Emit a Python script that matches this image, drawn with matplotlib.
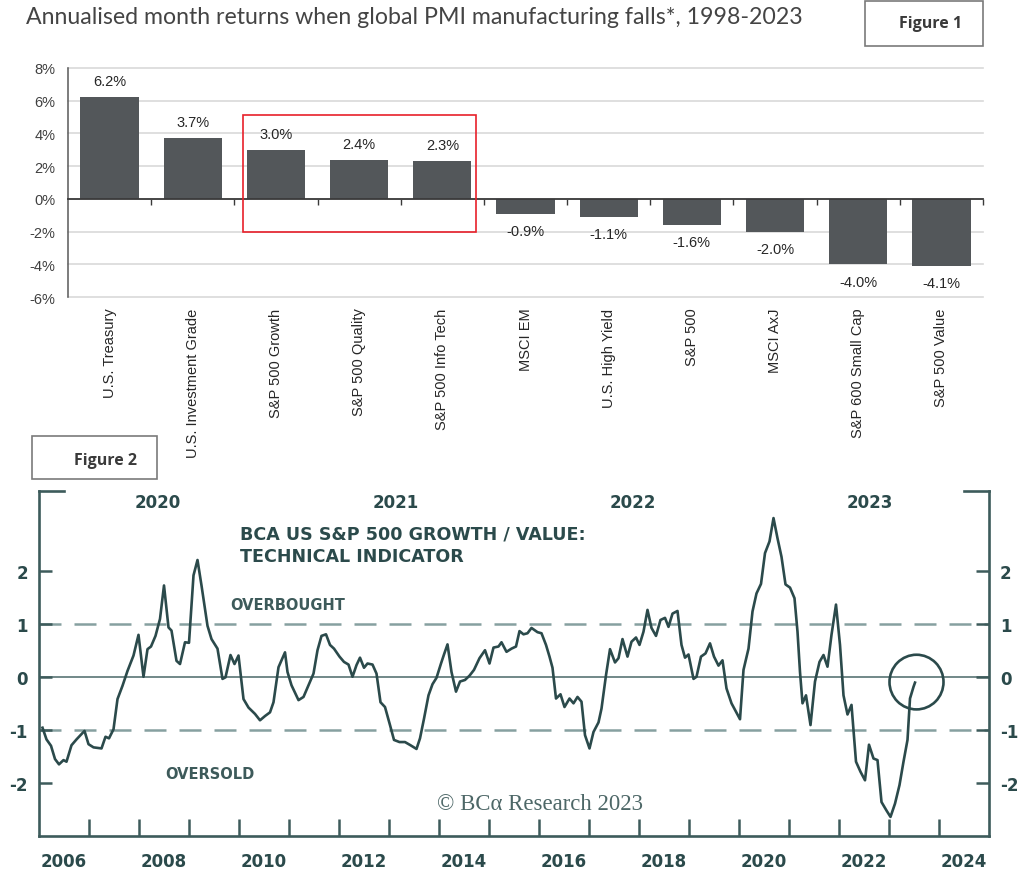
import numpy as np
import matplotlib
matplotlib.use("Agg")
import matplotlib.pyplot as plt
from matplotlib.patches import Rectangle, Ellipse
from matplotlib.ticker import FixedLocator

# FIGURE 1 DATA
categories = ["U.S. Treasury", "U.S. Investment Grade", "S&P 500 Growth", "S&P 500 Quality",
              "S&P 500 Info Tech", "MSCI EM", "U.S. High Yield", "S&P 500", "MSCI AxJ",
              "S&P 600 Small Cap", "S&P 500 Value"]
returns = [6.2, 3.7, 3.0, 2.4, 2.3, -0.9, -1.1, -1.6, -2.0, -4.0, -4.1]
pct_ticks = [-6, -4, -2, 0, 2, 4, 6, 8]

# FIGURE 2 DATA (growth / value technical indicator)
ind_year = [
    2006.07, 2006.15, 2006.24, 2006.32, 2006.40, 2006.49, 2006.55, 2006.65, 2006.75, 2006.85,
    2006.91, 2006.99, 2007.09, 2007.25, 2007.33, 2007.40, 2007.49, 2007.57, 2007.67, 2007.77,
    2007.89, 2007.99, 2008.09, 2008.17, 2008.24, 2008.33, 2008.42, 2008.50, 2008.59, 2008.65,
    2008.75, 2008.82, 2008.92, 2009.00, 2009.09, 2009.17, 2009.25, 2009.37, 2009.45, 2009.57,
    2009.67, 2009.73, 2009.83, 2009.91, 2009.99, 2010.09, 2010.19, 2010.32, 2010.42, 2010.52,
    2010.62, 2010.69, 2010.79, 2010.92, 2010.97, 2011.05, 2011.19, 2011.29, 2011.39, 2011.49,
    2011.57, 2011.65, 2011.74, 2011.82, 2011.90, 2012.01, 2012.10, 2012.19, 2012.27, 2012.35,
    2012.42, 2012.50, 2012.57, 2012.67, 2012.75, 2012.83, 2012.92, 2013.02, 2013.10, 2013.21,
    2013.32, 2013.43, 2013.55, 2013.62, 2013.70, 2013.79, 2013.87, 2013.95, 2014.04, 2014.10,
    2014.17, 2014.25, 2014.34, 2014.42, 2014.52, 2014.61, 2014.70, 2014.81, 2014.92, 2015.01,
    2015.09, 2015.19, 2015.25, 2015.35, 2015.45, 2015.54, 2015.61, 2015.69, 2015.77, 2015.85,
    2015.97, 2016.05, 2016.14, 2016.21, 2016.27, 2016.34, 2016.43, 2016.51, 2016.61, 2016.69,
    2016.77, 2016.85, 2016.92, 2017.01, 2017.09, 2017.19, 2017.25, 2017.34, 2017.42, 2017.52,
    2017.59, 2017.67, 2017.77, 2017.85, 2017.94, 2018.01, 2018.09, 2018.17, 2018.25, 2018.34,
    2018.43, 2018.52, 2018.59, 2018.67, 2018.77, 2018.85, 2018.92, 2018.99, 2019.09, 2019.15,
    2019.24, 2019.33, 2019.42, 2019.50, 2019.59, 2019.67, 2019.75, 2019.85, 2019.94, 2020.02,
    2020.09, 2020.19, 2020.27, 2020.35, 2020.44, 2020.52, 2020.61, 2020.69, 2020.77, 2020.85,
    2020.93, 2021.02, 2021.11, 2021.17, 2021.22, 2021.27, 2021.34, 2021.43, 2021.52, 2021.61,
    2021.69, 2021.77, 2021.85, 2021.94, 2022.02, 2022.09, 2022.17, 2022.25, 2022.34, 2022.43,
    2022.52, 2022.60, 2022.69, 2022.77, 2022.85, 2022.95, 2023.03, 2023.12, 2023.21, 2023.29,
    2023.37, 2023.42, 2023.49, 2023.52]
ind_value = [
    -0.96, -1.18, -1.30, -1.55, -1.65, -1.57, -1.60, -1.29, -1.18, -1.08,
    -1.02, -1.27, -1.33, -1.35, -1.13, -1.16, -0.99, -0.42, -0.17, 0.11,
    0.40, 0.79, 0.00, 0.52, 0.57, 0.77, 1.09, 1.72, 0.93, 0.87,
    0.30, 0.24, 0.65, 0.64, 1.91, 2.20, 1.72, 0.96, 0.71, 0.53,
    -0.04, -0.01, 0.41, 0.24, 0.40, -0.42, -0.58, -0.70, -0.82, -0.74,
    -0.67, -0.48, 0.18, 0.46, 0.09, -0.16, -0.44, -0.38, -0.16, 0.06,
    0.50, 0.77, 0.80, 0.60, 0.53, 0.38, 0.28, 0.23, 0.00, 0.22,
    0.36, 0.17, 0.25, 0.23, 0.06, -0.48, -0.57, -0.91, -1.19, -1.23,
    -1.23, -1.29, -1.36, -1.16, -0.79, -0.35, -0.14, -0.02, 0.25, 0.42,
    0.61, 0.09, -0.28, -0.09, -0.06, 0.02, 0.13, 0.35, 0.50, 0.25,
    0.55, 0.57, 0.65, 0.47, 0.53, 0.57, 0.86, 0.80, 0.82, 0.92,
    0.84, 0.82, 0.60, 0.38, 0.17, -0.41, -0.33, -0.57, -0.41, -0.50,
    -0.38, -0.47, -1.10, -1.35, -1.04, -0.86, -0.60, 0.03, 0.52, 0.27,
    0.35, 0.71, 0.38, 0.66, 0.74, 0.60, 0.85, 1.26, 0.92, 0.77,
    1.07, 1.11, 0.94, 1.19, 1.24, 0.60, 0.36, 0.42, -0.04, 0.00,
    0.38, 0.44, 0.63, 0.38, 0.21, 0.31, -0.22, -0.50, -0.66, -0.80,
    0.13, 0.53, 1.23, 1.57, 1.75, 2.33, 2.55, 2.99, 2.61, 2.26,
    1.74, 1.68, 1.48, 0.85, 0.09, -0.50, -0.35, -0.91, -0.09, 0.28,
    0.41, 0.19, 0.79, 1.36, 0.60, -0.35, -0.71, -0.53, -1.60, -1.79,
    -1.95, -1.28, -1.54, -1.57, -2.36, -2.52, -2.64, -2.39, -2.04, -1.60,
    -1.19, -0.41, -0.19, -0.11]
level_ticks = [-2, -1, 0, 1, 2]
band_levels = [-1, 1]
year_ticks = list(range(2007, 2025))
year_labels = list(range(2006, 2025, 2))
top_labels = ["2020", "2021", "2022", "2023"]

W, H = 1024, 895
TEAL = "#2b4a4b"
SPINE = "#3d5b5b"


def px_box(left, top, right, bottom):
    # pixel box of the reference -> figure fraction rect
    return [left / W, 1 - bottom / H, (right - left) / W, (bottom - top) / H]


fig = plt.figure(figsize=(W / 100, H / 100), dpi=100)
fig.patch.set_facecolor("white")

# ---------------- FIGURE 1: bars ----------------
fig.text(26 / W, 1 - 18 / H,
         "Annualised month returns when global PMI manufacturing falls*, 1998-2023",
         ha="left", va="center", fontsize=16.7, color="#444444", family="Lato")

fig.add_artist(Rectangle((865 / W, 1 - 47 / H), 118 / W, 45 / H, transform=fig.transFigure,
                         facecolor="white", edgecolor="#7a7a7a", lw=1.2))
fig.text(931 / W, 1 - 24 / H, "Figure 1", ha="center", va="center", fontsize=11.5,
         fontweight="bold", color="#3a3a3a", family="Open Sans")

ax1 = fig.add_axes(px_box(68, 69, 983, 298))
x = np.arange(len(categories))
ax1.bar(x, returns, width=0.7, color="#53575a", zorder=3)
ax1.set_xlim(-0.5, len(categories) - 0.5)
ax1.set_ylim(-6, 8)
ax1.set_yticks(pct_ticks)
ax1.set_yticklabels([f"{v}%" for v in pct_ticks], fontsize=10.5, color="#404040",
                    family="Liberation Sans")
ax1.tick_params(axis="y", length=0, pad=9)
ax1.grid(axis="y", color="#d9d9d9", lw=1.2, zorder=0)
for gl in ax1.get_ygridlines():
    gl.set_clip_on(False)
for s in ["top", "right"]:
    ax1.spines[s].set_visible(False)
ax1.spines["left"].set_color("#595959")
ax1.spines["left"].set_linewidth(1.1)
ax1.spines["bottom"].set_position(("data", 0))
ax1.spines["bottom"].set_color("#3a3a3a")
ax1.spines["bottom"].set_linewidth(1.3)
ax1.spines["bottom"].set_zorder(4)
ax1.set_xticks(x + 0.5)
ax1.tick_params(axis="x", direction="out", length=4, width=1, color="#3a3a3a",
                labelbottom=False)

for xi, v, name in zip(x, returns, categories):
    ax1.annotate(f"{v:.1f}%", xy=(xi, v), xytext=(0, 11.5 if v > 0 else -12.5),
                 textcoords="offset points", ha="center", va="center", fontsize=10.5,
                 color="#262626", family="Liberation Sans")
    ax1.annotate(name, xy=(xi, 0), xycoords=("data", "axes fraction"), xytext=(0, -7.5),
                 textcoords="offset points", rotation=90, ha="center", va="top",
                 fontsize=10.5, color="#262626", family="Liberation Sans")

# highlight box round the growth-style group
ax1.add_patch(Rectangle((1.6, -2.05), 2.8, 7.15, fill=False, edgecolor="#e8202a", lw=1.2,
                        zorder=5, clip_on=False))

# ---------------- FIGURE 2: indicator line ----------------
fig.add_artist(Rectangle((32 / W, 1 - 480 / H), 125 / W, 43 / H, transform=fig.transFigure,
                         facecolor="white", edgecolor="#7a7a7a", lw=1.2))
fig.text(105 / W, 1 - 461 / H, "Figure 2", ha="center", va="center", fontsize=11.5,
         fontweight="bold", color="#3a3a3a", family="Open Sans")

ax2 = fig.add_axes(px_box(39, 492, 989, 837))
ax2.set_xlim(2006, 2025)
ax2.set_ylim(-3, 3.5)

ax2.axhline(0, color="#4a6868", lw=1.1, zorder=1)
for lv in band_levels:
    ax2.axhline(lv, color="#86a0a0", lw=1.8, dashes=(8.8, 5.2), zorder=1)
ax2.plot(ind_year, ind_value, color=TEAL, lw=1.9, zorder=3, solid_joinstyle="round")
ax2.add_patch(Ellipse((2023.55, -0.1), 1.08, 1.03, fill=False, edgecolor=TEAL, lw=1.9,
                      zorder=4))

ax2.spines["top"].set_visible(False)
for s in ["left", "right", "bottom"]:
    ax2.spines[s].set_color(SPINE)
    ax2.spines[s].set_linewidth(1.9)
for xs in ([0, 0.026], [0.974, 1]):
    ax2.plot(xs, [1, 1], transform=ax2.transAxes, color=SPINE, lw=1.9, clip_on=False,
             solid_capstyle="projecting")

ax2.set_yticks(level_ticks)
ax2.set_yticklabels([str(v) for v in level_ticks])
ax2.tick_params(axis="y", direction="in", length=9.5, width=1.8, color=SPINE,
                left=True, right=True, labelleft=True, labelright=True, pad=8,
                labelsize=12, labelcolor=TEAL)
for t in ax2.yaxis.get_major_ticks():
    t.label1.set_fontweight("bold")
    t.label2.set_fontweight("bold")

ax2.xaxis.set_major_locator(FixedLocator(year_ticks))
ax2.xaxis.set_minor_locator(FixedLocator([y + 0.5 for y in year_labels]))
ax2.set_xticklabels([], minor=False)
ax2.set_xticklabels([str(y) for y in year_labels], minor=True, fontweight="bold")
ax2.tick_params(axis="x", which="major", direction="in", length=12, width=1.8, color=SPINE,
                labelbottom=False)
ax2.tick_params(axis="x", which="minor", length=0, pad=11.5, labelsize=12, labelcolor=TEAL)

for xt, lab in zip([2008.38, 2013.14, 2017.88, 2022.62], top_labels):
    ax2.text(xt, 3.30, lab, ha="center", va="center", fontsize=12, fontweight="bold",
             color=TEAL)

ax2.text(2010.02, 2.60, "BCA US S&P 500 GROWTH / VALUE:", ha="left", va="baseline",
         fontsize=12.6, fontweight="bold", color=TEAL)
ax2.text(2010.02, 2.19, "TECHNICAL INDICATOR", ha="left", va="baseline",
         fontsize=12.6, fontweight="bold", color=TEAL)
ax2.text(2009.82, 1.28, "OVERBOUGHT", ha="left", va="baseline", fontsize=10.5,
         fontweight="bold", color="#3d5a5a")
ax2.text(2008.52, -1.91, "OVERSOLD", ha="left", va="baseline", fontsize=10.5,
         fontweight="bold", color="#3d5a5a")
ax2.text(2013.96, -2.49, "\u00a9 BC\u03b1 Research 2023", ha="left", va="baseline",
         fontsize=16.4, color="#4d6767", family="Liberation Serif")

fig.savefig("out.png", dpi=100)
